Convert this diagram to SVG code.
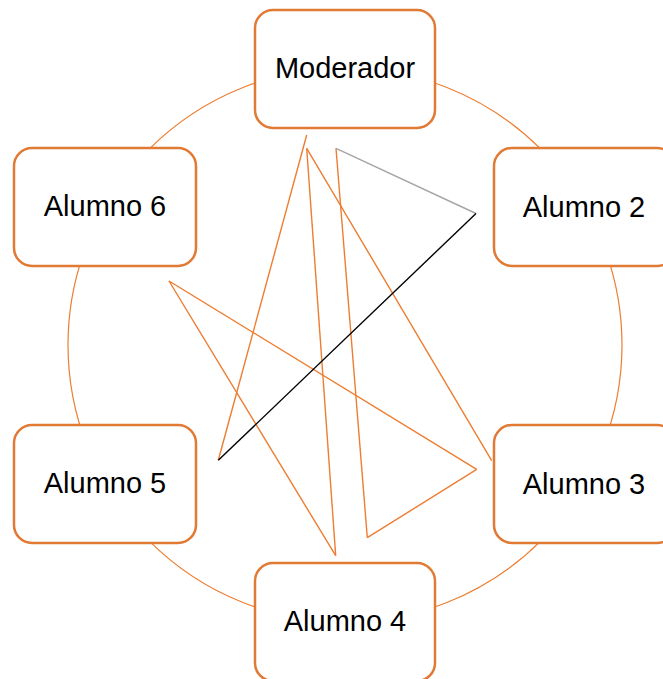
<svg xmlns="http://www.w3.org/2000/svg" width="663" height="679" viewBox="0 0 663 679">
<style>
.box{fill:#fff;stroke:#E07A34;stroke-width:2.5}
.lbl{font-family:"Liberation Sans",Arial,sans-serif;font-size:29px;fill:#000;text-anchor:middle}
.o{stroke:#ED7D31;stroke-width:1.4;fill:none}
</style>
<rect width="663" height="679" fill="#fff"/>
<circle cx="345" cy="345" r="277" fill="none" stroke="#ED7D31" stroke-width="1.2"/>
<g id="connectors">
<line class="o" x1="306.7" y1="135" x2="218.3" y2="460.3"/>
<line class="o" x1="306.7" y1="148.3" x2="335.7" y2="555.7"/>
<line class="o" x1="306.7" y1="148.3" x2="491.7" y2="460.7"/>
<line class="o" x1="336" y1="148.3" x2="367.3" y2="537.7"/>
<line class="o" x1="367.3" y1="537.7" x2="476.7" y2="469.3"/>
<line class="o" x1="476.7" y1="469.3" x2="169" y2="281"/>
<line class="o" x1="169" y1="281" x2="335.7" y2="555.7"/>
<line x1="336" y1="148.3" x2="476" y2="213.5" stroke="#A5A5A5" stroke-width="1.4"/>
<line x1="476" y1="213.5" x2="218.3" y2="460.3" stroke="#000" stroke-width="1.4"/>
</g>
<g id="moderador"><rect class="box" x="255" y="10" width="180" height="118" rx="18"/><text class="lbl" x="345" y="78">Moderador</text></g>
<g id="alumno2"><rect class="box" x="494" y="148" width="181" height="118" rx="18"/><text class="lbl" x="584" y="217">Alumno 2</text></g>
<g id="alumno3"><rect class="box" x="494" y="425" width="181" height="118" rx="18"/><text class="lbl" x="584" y="494">Alumno 3</text></g>
<g id="alumno4"><rect class="box" x="255" y="563" width="180" height="118" rx="18"/><text class="lbl" x="345" y="631">Alumno 4</text></g>
<g id="alumno5"><rect class="box" x="14" y="425" width="182" height="118" rx="18"/><text class="lbl" x="105" y="493">Alumno 5</text></g>
<g id="alumno6"><rect class="box" x="14" y="148" width="182" height="118" rx="18"/><text class="lbl" x="105" y="216">Alumno 6</text></g>
</svg>
